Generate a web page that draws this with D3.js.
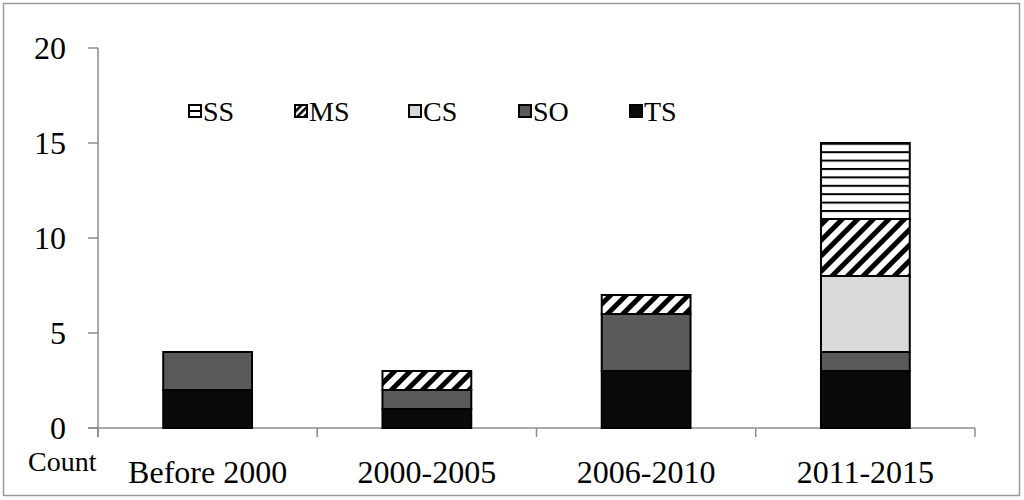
<!DOCTYPE html>
<html><head><meta charset="utf-8">
<script src="https://cdn.jsdelivr.net/npm/d3@7"></script>
<style>body{margin:0;background:#fff}svg{display:block}text{font-family:"Liberation Serif","DejaVu Serif",serif;fill:#000}</style>
</head><body><svg id="c" width="1024" height="500"></svg>
<script>
const categories = ["Before 2000","2000-2005","2006-2010","2011-2015"];
const seriesNames = ["TS","SO","CS","MS","SS"];
const TS = [2,1,3,3];
const SO = [2,1,3,1];
const CS = [0,0,0,4];
const MS = [0,1,1,3];
const SS = [0,0,0,4];
const yTicks = [0,5,10,15,20];
const legendOrder = ["SS","MS","CS","SO","TS"];

const svg = d3.select("#c");
const defs = svg.append("defs");
const ph = defs.append("pattern").attr("id","pSS").attr("patternUnits","userSpaceOnUse").attr("width",8).attr("height",8.4);
ph.append("rect").attr("width",8).attr("height",8.4).attr("fill","#fff");
ph.append("rect").attr("y",0).attr("width",8).attr("height",2).attr("fill","#000");
const pd = defs.append("pattern").attr("id","pMS").attr("patternUnits","userSpaceOnUse").attr("width",11).attr("height",11).attr("patternTransform","rotate(45)");
pd.append("rect").attr("width",11).attr("height",11).attr("fill","#fff");
pd.append("rect").attr("width",5).attr("height",11).attr("fill","#000");
const pdl = defs.append("pattern").attr("id","pMSl").attr("patternUnits","userSpaceOnUse").attr("width",5).attr("height",5).attr("patternTransform","rotate(45)");
pdl.append("rect").attr("width",5).attr("height",5).attr("fill","#fff");
pdl.append("rect").attr("width",2.5).attr("height",5).attr("fill","#000");
const phl = defs.append("pattern").attr("id","pSSl").attr("patternUnits","userSpaceOnUse").attr("width",6).attr("height",6);
phl.append("rect").attr("width",6).attr("height",6).attr("fill","#fff");
phl.append("rect").attr("y",0).attr("width",6).attr("height",2).attr("fill","#000");

const fills = {TS:"#0a0a0a", SO:"#5a5a5a", CS:"#d9d9d9", MS:"url(#pMS)", SS:"url(#pSS)"};
const legFills = {TS:"#0a0a0a", SO:"#5a5a5a", CS:"#d9d9d9", MS:"url(#pMSl)", SS:"url(#pSSl)"};

// outer border
svg.append("rect").attr("x",3.5).attr("y",3.5).attr("width",1016).attr("height",492).attr("fill","none").attr("stroke","#999").attr("stroke-width",1.5);

const x0 = 98, x1 = 975;
const x = d3.scaleBand().domain(categories).range([x0,x1]).paddingInner(0.595).paddingOuter(0.2975);
const y = d3.scaleLinear().domain([0,20]).range([428,48]);

const data = categories.map((c,i)=>({cat:c, TS:TS[i], SO:SO[i], CS:CS[i], MS:MS[i], SS:SS[i]}));
const stack = d3.stack().keys(seriesNames)(data);

// axes
const axisColor = "#8c8c8c";
const gy = svg.append("g");
gy.append("line").attr("x1",x0).attr("x2",x0).attr("y1",y(20)).attr("y2",437).attr("stroke",axisColor).attr("stroke-width",1.5);
gy.selectAll("line.t").data(yTicks).enter().append("line").attr("class","t")
  .attr("x1",88).attr("x2",x0).attr("y1",d=>y(d)).attr("y2",d=>y(d)).attr("stroke",axisColor).attr("stroke-width",1.5);
gy.selectAll("text").data(yTicks).enter().append("text")
  .attr("x",66).attr("y",d=>y(d)).attr("dy","0.34em").attr("text-anchor","end").attr("font-size",32).text(d=>d);

const gx = svg.append("g");
gx.append("line").attr("x1",88).attr("x2",x1).attr("y1",y(0)).attr("y2",y(0)).attr("stroke",axisColor).attr("stroke-width",1.5);
const step = (x1-x0)/categories.length;
gx.selectAll("line.t").data(d3.range(categories.length+1)).enter().append("line").attr("class","t")
  .attr("x1",d=>x0+d*step).attr("x2",d=>x0+d*step).attr("y1",y(0)).attr("y2",437).attr("stroke",axisColor).attr("stroke-width",1.5);
gx.selectAll("text").data(categories).enter().append("text")
  .attr("x",d=>x(d)+x.bandwidth()/2).attr("y",483).attr("text-anchor","middle").attr("font-size",32).text(d=>d);
svg.append("text").attr("x",28).attr("y",471).attr("font-size",28).text("Count");

// bars
svg.append("g").selectAll("g").data(stack).enter().append("g")
  .attr("fill",d=>fills[d.key])
  .selectAll("rect").data(d=>d.filter(s=>s[1]-s[0]>0)).enter().append("rect")
  .attr("x",d=>x(d.data.cat)).attr("width",x.bandwidth())
  .attr("y",d=>y(d[1])).attr("height",d=>y(d[0])-y(d[1]))
  .attr("stroke","#000").attr("stroke-width",2);

// legend
const legX = [188,294,408,518,629];
const lg = svg.append("g").selectAll("g").data(legendOrder).enter().append("g")
  .attr("transform",(d,i)=>`translate(${legX[i]},104)`);
lg.append("rect").attr("x",1).attr("y",1).attr("width",12).attr("height",12).attr("fill",d=>legFills[d]).attr("stroke","#000").attr("stroke-width",2);
lg.append("text").attr("x",15).attr("y",7).attr("dy","0.35em").attr("font-size",28).text(d=>d);
</script></body></html>
